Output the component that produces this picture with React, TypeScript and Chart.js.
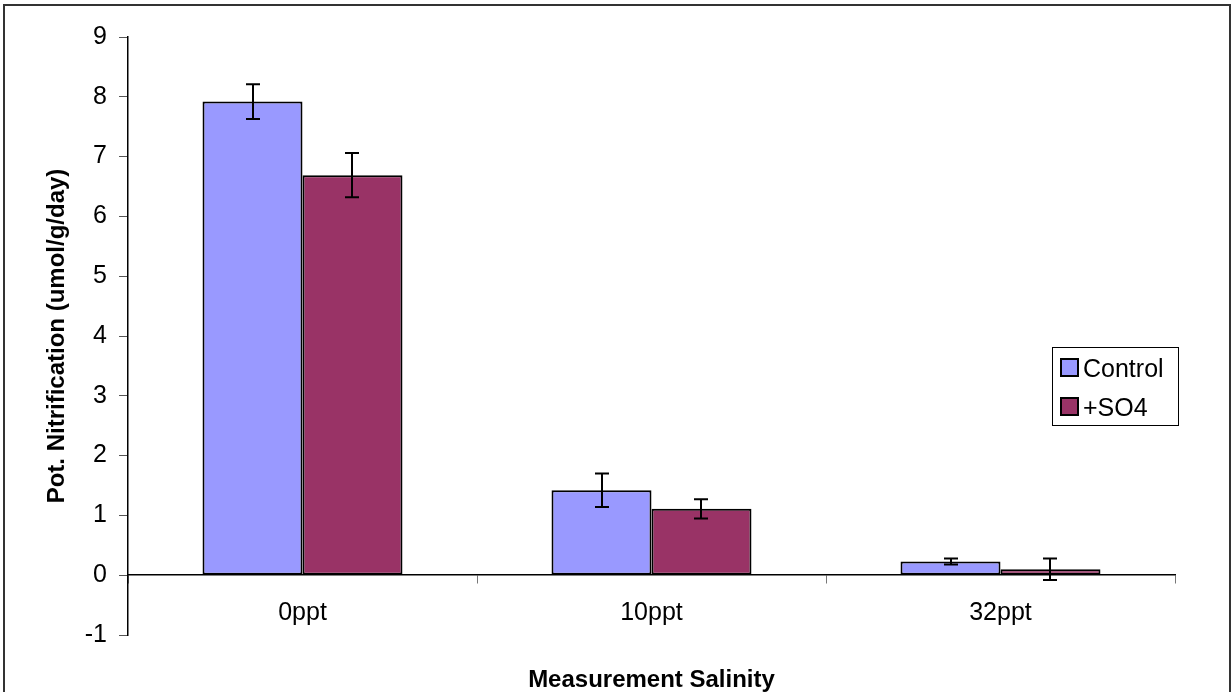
import React, { useEffect, useRef } from "react";
import { Chart, registerables } from "chart.js";

Chart.register(...registerables);

const categories = ["0ppt", "10ppt", "32ppt"];
const seriesNames = ["Control", "+SO4"];
const controlValues = [7.92, 1.42, 0.23];
const controlErrors = [0.29, 0.28, 0.05];
const so4Values = [6.69, 1.11, 0.1];
const so4Errors = [0.37, 0.16, 0.18];
const yMin = -1;
const yMax = 9;
const yStep = 1;
const xTitle = "Measurement Salinity";
const yTitle = "Pot. Nitrification (umol/g/day)";
const seriesColors = ["#9999FF", "#993366"];

const FONT = "'Liberation Sans', Arial, Helvetica, sans-serif";

const errorsBySeries = [controlErrors, so4Errors];

const errorBarPlugin = {
  id: "errorBars",
  afterDatasetsDraw(chart: any) {
    const ctx = chart.ctx;
    const y = chart.scales.y;
    ctx.save();
    ctx.strokeStyle = "#000";
    ctx.lineWidth = 2;
    chart.data.datasets.forEach((ds: any, i: number) => {
      const meta = chart.getDatasetMeta(i);
      meta.data.forEach((el: any, j: number) => {
        const v = ds.data[j];
        const e = errorsBySeries[i][j];
        const top = y.getPixelForValue(v + e);
        const bot = y.getPixelForValue(v - e);
        const x = Math.round(el.x);
        const cap = 7;
        ctx.beginPath();
        ctx.moveTo(x, top);
        ctx.lineTo(x, bot);
        ctx.moveTo(x - cap, top);
        ctx.lineTo(x + cap, top);
        ctx.moveTo(x - cap, bot);
        ctx.lineTo(x + cap, bot);
        ctx.stroke();
      });
    });
    ctx.restore();
  },
};

const decorPlugin = {
  id: "decor",
  afterDraw(chart: any) {
    const ctx = chart.ctx;
    const area = chart.chartArea;
    ctx.save();
    // outer border
    ctx.strokeStyle = "#333";
    ctx.lineWidth = 2;
    ctx.strokeRect(4, 5, 1226, 720);
    // x title
    ctx.fillStyle = "#000";
    ctx.font = `bold 24px ${FONT}`;
    ctx.textAlign = "center";
    ctx.textBaseline = "alphabetic";
    ctx.fillText(xTitle, (area.left + area.right) / 2, 687);
    // legend
    const lx = 1052.5;
    const ly = 347.5;
    ctx.lineWidth = 1;
    ctx.strokeStyle = "#000";
    ctx.fillStyle = "#fff";
    ctx.fillRect(lx, ly, 126, 78);
    ctx.strokeRect(lx, ly, 126, 78);
    const rows = [368, 407];
    seriesNames.forEach((name, i) => {
      const cy = rows[i];
      ctx.fillStyle = seriesColors[i];
      ctx.fillRect(1061, cy - 9, 17, 17);
      ctx.lineWidth = 2;
      ctx.strokeStyle = "#000";
      ctx.strokeRect(1061, cy - 9, 17, 17);
      ctx.fillStyle = "#000";
      ctx.font = `25px ${FONT}`;
      ctx.textAlign = "left";
      ctx.textBaseline = "alphabetic";
      ctx.fillText(name, 1083, cy + 9);
    });
    ctx.restore();
  },
};

export default function App() {
  const ref = useRef<HTMLCanvasElement | null>(null);

  useEffect(() => {
    if (!ref.current) return;
    const chart = new Chart(ref.current, {
      type: "bar",
      data: {
        labels: categories,
        datasets: [
          {
            label: seriesNames[0],
            data: controlValues,
            backgroundColor: seriesColors[0],
            borderColor: "#000",
            borderWidth: 2,
            borderSkipped: false,
            categoryPercentage: 0.573,
            barPercentage: 1,
          },
          {
            label: seriesNames[1],
            data: so4Values,
            backgroundColor: seriesColors[1],
            borderColor: "#000",
            borderWidth: 2,
            borderSkipped: false,
            categoryPercentage: 0.573,
            barPercentage: 1,
          },
        ],
      },
      options: {
        responsive: false,
        animation: false,
        devicePixelRatio: 1,
        layout: { padding: { left: 0, right: 56, top: 37, bottom: 57 } },
        plugins: {
          legend: { display: false },
          tooltip: { enabled: false },
          title: { display: false },
        },
        scales: {
          x: {
            position: { y: 0 } as any,
            offset: true,
            grid: {
              display: true,
              drawOnChartArea: false,
              drawTicks: true,
              tickLength: 8,
              color: "#777",
              offset: true,
            },
            border: { display: true, color: "#000", width: 1.5 },
            ticks: {
              color: "#000",
              font: { family: FONT, size: 25 },
              padding: 15,
            },
          },
          y: {
            min: yMin,
            max: yMax,
            afterFit: (scale: any) => {
              scale.width = 128;
            },
            ticks: {
              stepSize: yStep,
              color: "#000",
              font: { family: FONT, size: 25 },
              padding: 12,
            },
            grid: {
              display: true,
              drawOnChartArea: false,
              drawTicks: true,
              tickLength: 9,
              color: "#555",
            },
            border: { display: true, color: "#000", width: 1.5 },
            title: {
              display: true,
              text: yTitle,
              color: "#000",
              font: { family: FONT, size: 24, weight: "bold" },
              padding: { top: 43, bottom: 0 },
            },
          },
        },
      },
      plugins: [errorBarPlugin, decorPlugin],
    } as any);
    return () => chart.destroy();
  }, []);

  return (
    <div style={{ position: "fixed", left: 0, top: 0, width: 1231, height: 692, background: "#fff" }}>
      <canvas ref={ref} width={1231} height={692} style={{ display: "block" }} />
    </div>
  );
}
